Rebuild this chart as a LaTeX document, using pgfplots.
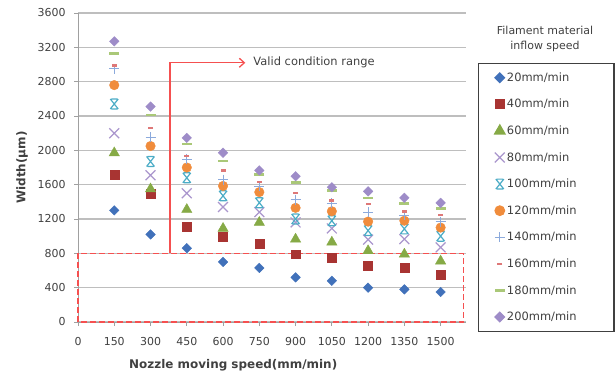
\documentclass[border=0pt]{standalone}
\usepackage{pgfplots}
\pgfplotsset{compat=1.18}
\usepackage{fontspec}
\setmainfont{DejaVu Sans}
\usetikzlibrary{arrows.meta}
\definecolor{c20}{RGB}{65,113,186}
\definecolor{c40}{RGB}{168,52,50}
\definecolor{c60}{RGB}{134,170,70}
\definecolor{c80}{RGB}{170,150,205}
\definecolor{c100}{RGB}{75,172,198}
\definecolor{c120}{RGB}{240,140,60}
\definecolor{c140}{RGB}{140,170,220}
\definecolor{c160}{RGB}{222,120,120}
\definecolor{c180}{RGB}{170,200,120}
\definecolor{c200}{RGB}{158,140,200}
\definecolor{gridgray}{RGB}{190,190,190}
\definecolor{axgray}{RGB}{160,160,160}
\definecolor{txtgray}{RGB}{64,64,64}
\definecolor{annred}{RGB}{245,80,80}
\pgfdeclareplotmark{sdiamond*}{%
  \pgfpathmoveto{\pgfqpoint{0pt}{\pgfplotmarksize}}%
  \pgfpathlineto{\pgfqpoint{\pgfplotmarksize}{0pt}}%
  \pgfpathlineto{\pgfqpoint{0pt}{-\pgfplotmarksize}}%
  \pgfpathlineto{\pgfqpoint{-\pgfplotmarksize}{0pt}}%
  \pgfpathclose\pgfusepathqfillstroke}
\pgfdeclareplotmark{xstar}{%
  \pgfpathmoveto{\pgfqpoint{-.8\pgfplotmarksize}{-\pgfplotmarksize}}%
  \pgfpathlineto{\pgfqpoint{.8\pgfplotmarksize}{\pgfplotmarksize}}%
  \pgfpathmoveto{\pgfqpoint{-.8\pgfplotmarksize}{\pgfplotmarksize}}%
  \pgfpathlineto{\pgfqpoint{.8\pgfplotmarksize}{-\pgfplotmarksize}}%
  \pgfpathmoveto{\pgfqpoint{-.6\pgfplotmarksize}{\pgfplotmarksize}}%
  \pgfpathlineto{\pgfqpoint{.6\pgfplotmarksize}{\pgfplotmarksize}}%
  \pgfpathmoveto{\pgfqpoint{-.6\pgfplotmarksize}{-\pgfplotmarksize}}%
  \pgfpathlineto{\pgfqpoint{.6\pgfplotmarksize}{-\pgfplotmarksize}}%
  \pgfusepathqstroke}
\pgfplotsset{lg/.style={only marks, legend image code/.code={\draw[##1] plot coordinates {(0bp,0bp)};}}}
\begin{document}
\begin{tikzpicture}[x=1bp,y=1bp]
\useasboundingbox (0,0) rectangle (616,379);
\begin{axis}[
  at={(78bp,57bp)}, anchor=south west,
  scale only axis, width=388bp, height=309bp,
  xmin=0, xmax=1605, ymin=0, ymax=3600,
  xtick={0,150,...,1500}, ytick={0,400,...,3600},
  axis lines=left, axis line style={-, draw=axgray, line width=0.9bp},
  ymajorgrids, major grid style={draw=gridgray, line width=1.3bp},
  tick align=outside, major tick length=4bp, tick style={draw=axgray, line width=0.9bp},
  ticklabel style={font=\fontsize{11}{13}\selectfont, text=txtgray},
  /pgf/number format/assume math mode=true,
  /pgf/number format/1000 sep={},
  xticklabel style={yshift=-8bp},
  yticklabel style={xshift=-5bp},
  xlabel={\bfseries Nozzle moving speed(mm/min)},
  xlabel style={at={(axis description cs:0.40,-0.139)}, anchor=center, font=\fontsize{12}{14}\selectfont, text=txtgray},
  ylabel={\bfseries Width(µm)},
  ylabel style={at={(axis description cs:-0.144,0.5)}, anchor=center, rotate=0, font=\fontsize{12}{14}\selectfont, text=txtgray},
  clip=false,
  legend cell align=left,
  legend style={at={(axis description cs:1.031,0.838)}, anchor=north west, draw=txtgray, line width=1.2bp,
    font=\fontsize{11.5}{13}\selectfont, text=txtgray, inner xsep=16bp, inner ysep=7bp, row sep=12.4bp,
    /tikz/every even column/.append style={column sep=3bp}},
]
\addplot[lg, mark=sdiamond*, mark size=4.8, c20, mark options={fill=c20, draw=c20}] coordinates {(150,1300)(300,1020)(450,860)(600,700)(750,630)(900,520)(1050,480)(1200,400)(1350,380)(1500,350)};
\addlegendentry{\makebox[89bp][l]{20mm/min}}
\addplot[lg, mark=square*, mark size=4.5, c40, mark options={fill=c40, draw=c40}] coordinates {(150,1720)(300,1490)(450,1110)(600,990)(750,910)(900,790)(1050,750)(1200,660)(1350,630)(1500,550)};
\addlegendentry{40mm/min}
\addplot[lg, mark=triangle*, mark size=6, c60, mark options={fill=c60, draw=c60}] coordinates {(150,1970)(300,1550)(450,1310)(600,1090)(750,1160)(900,965)(1050,930)(1200,830)(1350,790)(1500,710)};
\addlegendentry{60mm/min}
\addplot[lg, mark=x, mark size=7, c80, mark options={line width=1.2bp}] coordinates {(150,2200)(300,1710)(450,1500)(600,1340)(750,1280)(900,1160)(1050,1090)(1200,960)(1350,965)(1500,870)};
\addlegendentry{80mm/min}
\addplot[lg, mark=xstar, mark size=5, c100, mark options={line width=1.2bp}] coordinates {(150,2540)(300,1870)(450,1680)(600,1470)(750,1390)(900,1200)(1050,1180)(1200,1065)(1350,1085)(1500,1000)};
\addlegendentry{100mm/min}
\addplot[lg, mark=*, mark size=4.8, c120, mark options={fill=c120, draw=c120}] coordinates {(150,2760)(300,2050)(450,1800)(600,1585)(750,1513)(900,1330)(1050,1290)(1200,1170)(1350,1180)(1500,1100)};
\addlegendentry{120mm/min}
\addplot[lg, mark=+, mark size=5, c140, mark options={line width=1.1bp}] coordinates {(150,2950)(300,2150)(450,1895)(600,1660)(750,1583)(900,1425)(1050,1385)(1200,1276)(1350,1245)(1500,1170)};
\addlegendentry{140mm/min}
\addplot[lg, mark=-, mark size=2.5, c160, mark options={line width=2.6bp}] coordinates {(150,2990)(300,2260)(450,1933)(600,1766)(750,1633)(900,1505)(1050,1415)(1200,1374)(1350,1290)(1500,1245)};
\addlegendentry{160mm/min}
\addplot[lg, mark=-, mark size=5, c180, mark options={line width=2.6bp}] coordinates {(150,3130)(300,2410)(450,2075)(600,1875)(750,1720)(900,1625)(1050,1530)(1200,1444)(1350,1380)(1500,1320)};
\addlegendentry{180mm/min}
\addplot[lg, mark=sdiamond*, mark size=4.8, c200, mark options={fill=c200, draw=c200}] coordinates {(150,3270)(300,2510)(450,2145)(600,1972)(750,1766)(900,1698)(1050,1570)(1200,1522)(1350,1447)(1500,1388)};
\addlegendentry{200mm/min}
\draw[annred, line width=1.3bp, dash pattern=on 6bp off 3bp] (axis cs:0,0) rectangle (axis cs:1595,800);
\draw[annred, line width=1.3bp, -{Straight Barb[length=5bp,width=9bp]}] (axis cs:380,800) -- (axis cs:380,3020) -- (axis cs:692,3020);
\node[anchor=west, font=\fontsize{11.5}{13}\selectfont, text=txtgray, inner sep=0pt] at (axis cs:725,3020) {Valid condition range};
\end{axis}
\node[align=center, font=\fontsize{11}{16}\selectfont, text=txtgray] at (545,340) {Filament material\\inflow speed};
\end{tikzpicture}
\end{document}
